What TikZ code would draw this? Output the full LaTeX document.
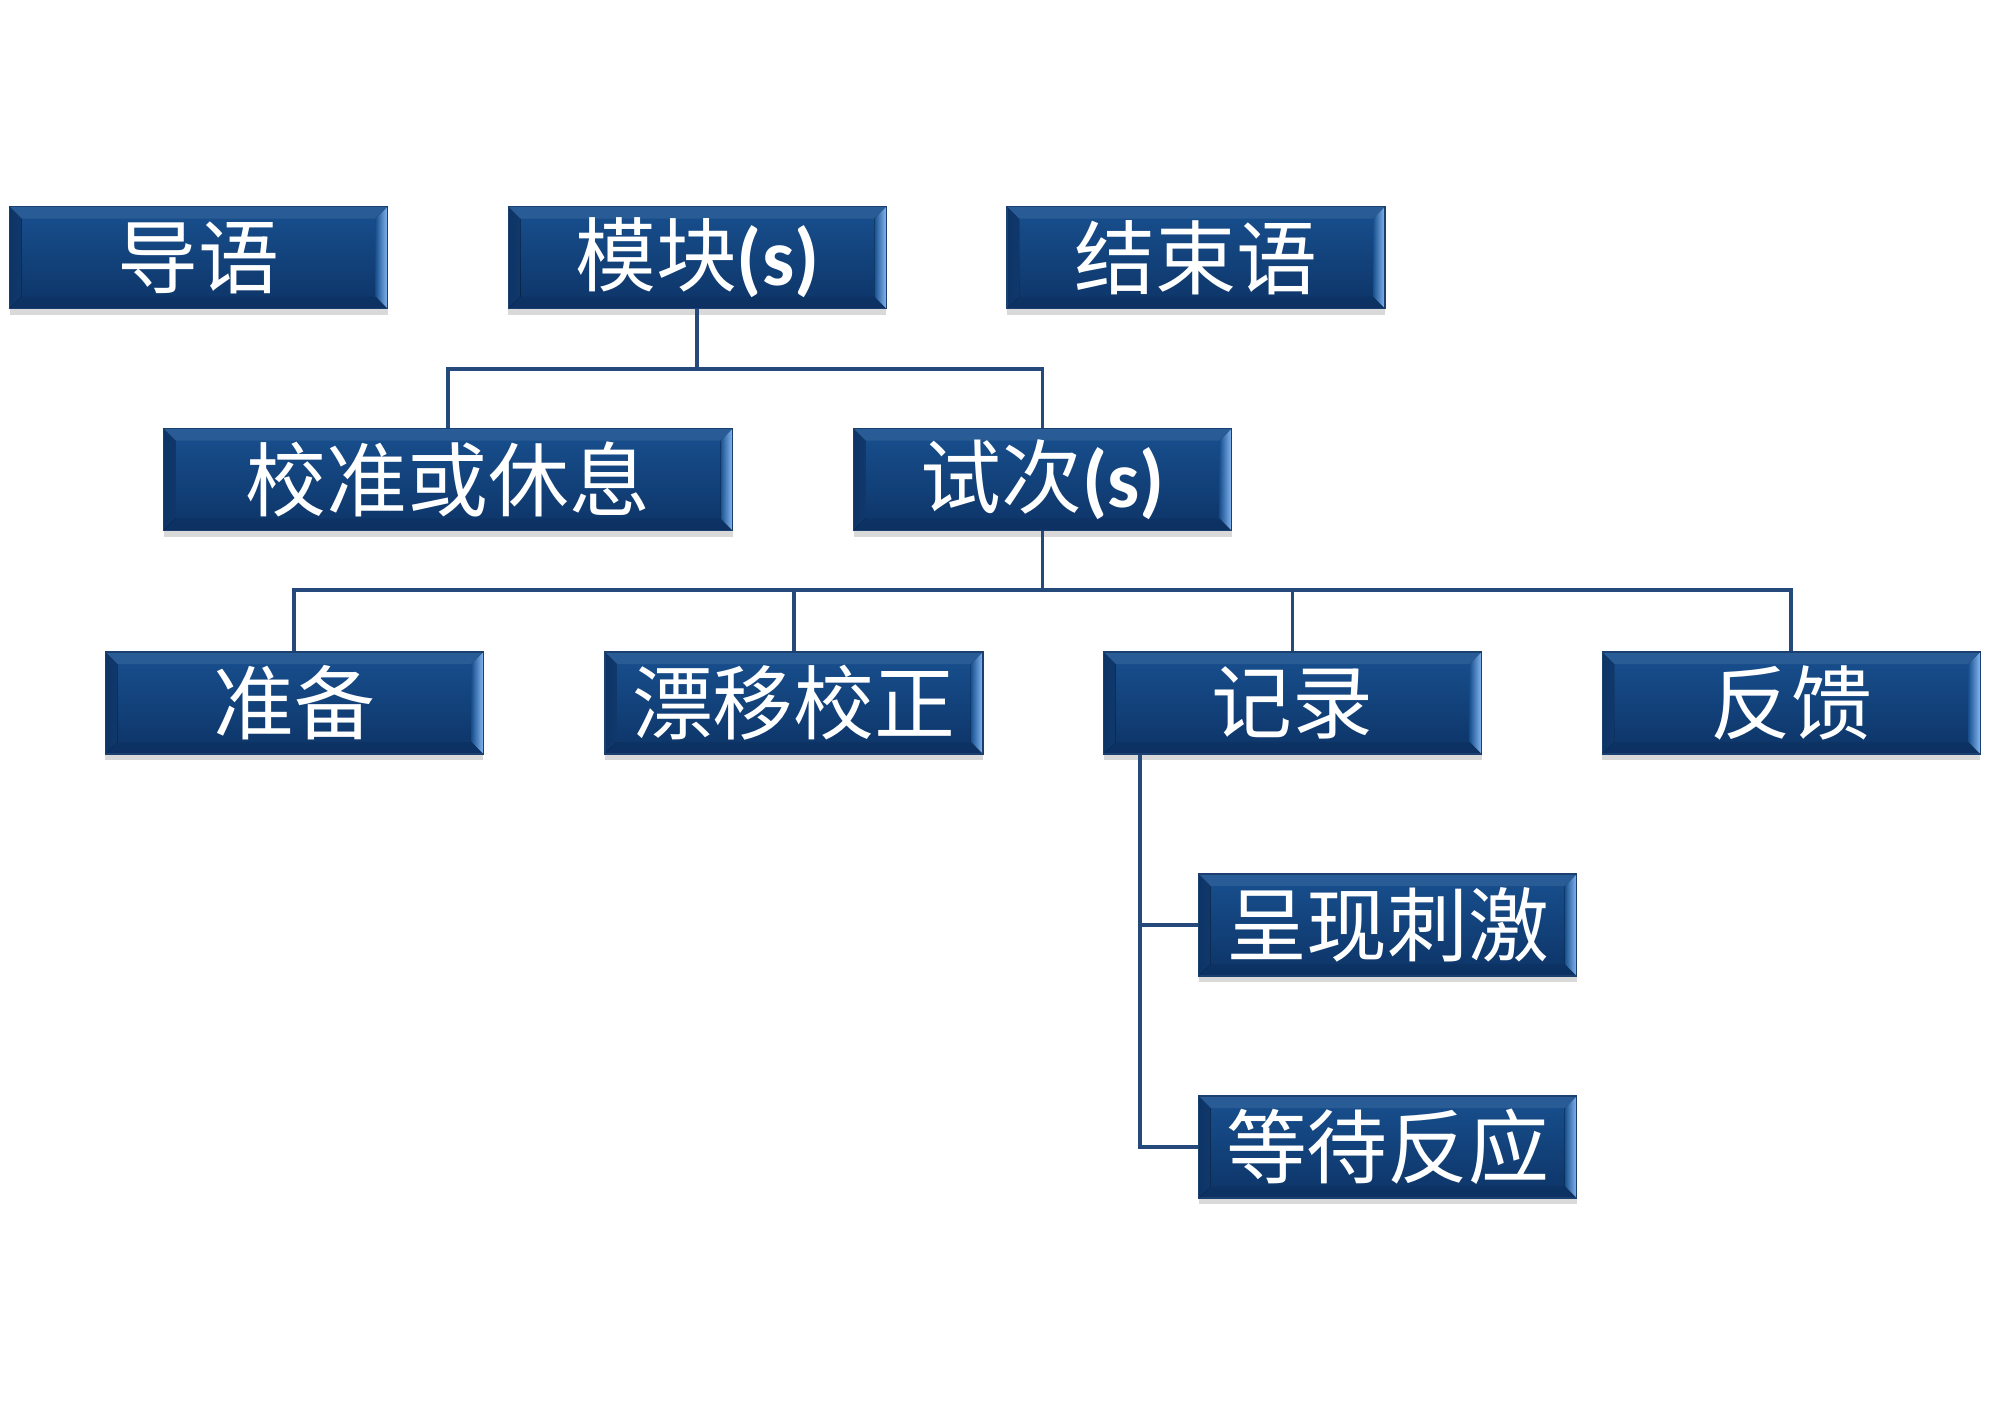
\documentclass[tikz,border=0pt]{standalone}
\usepackage{fontspec}
\setmainfont{Carlito}
\newfontfamily\cjk{Noto Sans CJK SC}
\newfontfamily\latinb{Carlito}[UprightFont=* Bold]
\usetikzlibrary{shadows}
\definecolor{boxtop}{HTML}{18508F}
\definecolor{boxbot}{HTML}{0D3467}
\definecolor{boxedge}{HTML}{1B3F6E}
\definecolor{bevlight}{HTML}{86B8F2}
\definecolor{linkc}{HTML}{24497A}
\tikzset{
  blk/.style={minimum width=3.78cm, minimum height=1.02cm, inner sep=0pt,
    draw=boxedge, line width=0.4pt, top color=boxtop, bottom color=boxbot,
    text=white, font=\cjk\fontsize{23}{26}\selectfont,
    drop shadow={shadow xshift=0pt, shadow yshift=-0.06cm, opacity=0.3},
    path picture={
      \fill[left color=boxbot, right color=bevlight]
        (path picture bounding box.south west) -- (path picture bounding box.north west)
        -- ([shift={(0.12,-0.12)}]path picture bounding box.north west)
        -- ([shift={(0.12,0.12)}]path picture bounding box.south west) -- cycle;
      \fill[left color=boxtop, right color=bevlight]
        (path picture bounding box.south east) -- (path picture bounding box.north east)
        -- ([shift={(-0.12,-0.12)}]path picture bounding box.north east)
        -- ([shift={(-0.12,0.12)}]path picture bounding box.south east) -- cycle;
      \fill[boxtop!85!white, opacity=0.5]
        (path picture bounding box.north west) -- (path picture bounding box.north east)
        -- ([shift={(-0.12,-0.12)}]path picture bounding box.north east)
        -- ([shift={(0.12,-0.12)}]path picture bounding box.north west) -- cycle;
      \fill[boxbot!85!black, opacity=0.35]
        (path picture bounding box.south west) -- (path picture bounding box.south east)
        -- ([shift={(-0.12,0.12)}]path picture bounding box.south east)
        -- ([shift={(0.12,0.12)}]path picture bounding box.south west) -- cycle;
    }},
  link/.style={draw=linkc, line width=1.1pt}
}
\newcommand{\plural}{{\latinb(s)}}
\begin{document}
\begin{tikzpicture}
	\useasboundingbox (0,0) rectangle (19.9,-14.05);
	% top row
	\node[blk] (intro) at (1.986,-2.576) {导语};
	\node[blk] (module) at (6.973,-2.576) {模块\plural};
	\node[blk] (outro) at (11.96,-2.576) {结束语};
	% second row
	\node[blk, minimum width=5.69cm] (calib) at (4.48,-4.797) {校准或休息};
	\node[blk] (trial) at (10.425,-4.797) {试次\plural};
	% third row
	\node[blk] (prep) at (2.944,-7.03) {准备};
	\node[blk] (drift) at (7.938,-7.03) {漂移校正};
	\node[blk] (record) at (12.925,-7.03) {记录};
	\node[blk] (feedback) at (17.912,-7.03) {反馈};
	% inside the recording
	\node[blk] (stim) at (13.877,-9.25) {呈现刺激};
	\node[blk] (resp) at (13.877,-11.47) {等待反应};
	% links
	\draw[link] (module.south) -- ++(0,-0.594) coordinate (bus1);
	\draw[link] (calib.north) |- (bus1) -| (trial.north);
	\draw[link] (trial.south) -- ++(0,-0.59) coordinate (bus2);
	\draw[link] (prep.north) |- (bus2) -| (feedback.north);
	\draw[link] (drift.north) -- (drift.north |- bus2);
	\draw[link] (record.north) -- (record.north |- bus2);
	\coordinate (rec0) at ([xshift=0.37cm]record.south west);
	\draw[link] (rec0) |- (stim.west);
	\draw[link] (rec0) |- (resp.west);
\end{tikzpicture}
\end{document}
